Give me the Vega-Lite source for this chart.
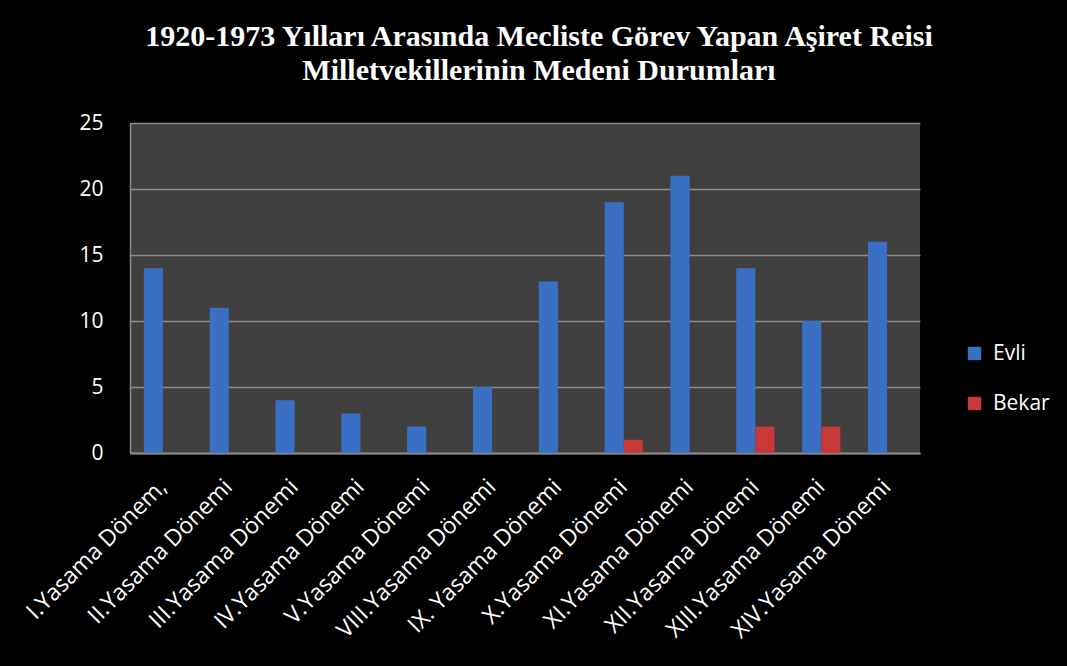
{
  "$schema": "https://vega.github.io/schema/vega-lite/v6.json",
  "width": 790,
  "height": 330,
  "autosize": {"type": "none"},
  "padding": {"left": 130, "top": 123, "right": 147, "bottom": 213},
  "background": "#000000",
  "title": {
    "text": ["1920-1973 Yılları Arasında Mecliste Görev Yapan Aşiret Reisi", "Milletvekillerinin Medeni Durumları"],
    "font": "Liberation Serif",
    "fontSize": 30,
    "fontWeight": "bold",
    "color": "#ffffff",
    "anchor": "middle",
    "offset": 26,
    "lineHeight": 34,
    "dx": 14
  },
  "config": {
    "view": {"fill": "#404040", "stroke": null},
    "font": "Open Sans"
  },
  "data": {
    "values": [
      {"donem": "I.Yasama Dönem,", "durum": "Evli", "sayi": 14},
      {"donem": "I.Yasama Dönem,", "durum": "Bekar", "sayi": 0},
      {"donem": "II.Yasama Dönemi", "durum": "Evli", "sayi": 11},
      {"donem": "II.Yasama Dönemi", "durum": "Bekar", "sayi": 0},
      {"donem": "III.Yasama Dönemi", "durum": "Evli", "sayi": 4},
      {"donem": "III.Yasama Dönemi", "durum": "Bekar", "sayi": 0},
      {"donem": "IV.Yasama Dönemi", "durum": "Evli", "sayi": 3},
      {"donem": "IV.Yasama Dönemi", "durum": "Bekar", "sayi": 0},
      {"donem": "V.Yasama Dönemi", "durum": "Evli", "sayi": 2},
      {"donem": "V.Yasama Dönemi", "durum": "Bekar", "sayi": 0},
      {"donem": "VIII.Yasama Dönemi", "durum": "Evli", "sayi": 5},
      {"donem": "VIII.Yasama Dönemi", "durum": "Bekar", "sayi": 0},
      {"donem": "IX. Yasama Dönemi", "durum": "Evli", "sayi": 13},
      {"donem": "IX. Yasama Dönemi", "durum": "Bekar", "sayi": 0},
      {"donem": "X.Yasama Dönemi", "durum": "Evli", "sayi": 19},
      {"donem": "X.Yasama Dönemi", "durum": "Bekar", "sayi": 1},
      {"donem": "XI.Yasama Dönemi", "durum": "Evli", "sayi": 21},
      {"donem": "XI.Yasama Dönemi", "durum": "Bekar", "sayi": 0},
      {"donem": "XII.Yasama Dönemi", "durum": "Evli", "sayi": 14},
      {"donem": "XII.Yasama Dönemi", "durum": "Bekar", "sayi": 2},
      {"donem": "XIII.Yasama Dönemi", "durum": "Evli", "sayi": 10},
      {"donem": "XIII.Yasama Dönemi", "durum": "Bekar", "sayi": 2},
      {"donem": "XIV.Yasama Dönemi", "durum": "Evli", "sayi": 16},
      {"donem": "XIV.Yasama Dönemi", "durum": "Bekar", "sayi": 0}
    ]
  },
  "mark": {"type": "bar"},
  "encoding": {
    "x": {
      "field": "donem",
      "type": "nominal",
      "sort": null,
      "title": null,
      "scale": {"paddingInner": 0.42, "paddingOuter": 0.21},
      "axis": {
        "labelAngle": -45,
        "labelAlign": "right",
        "labelBaseline": "middle",
        "labelPadding": 30,
        "labelLimit": 0,
        "labelOverlap": false,
        "ticks": false,
        "labelColor": "#ffffff",
        "labelFontSize": 23,
        "labelFont": "Open Sans",
        "domainColor": "#8c8c8c",
        "domainWidth": 2,
        "grid": false
      }
    },
    "xOffset": {
      "field": "durum",
      "type": "nominal",
      "sort": ["Evli", "Bekar"],
      "scale": {"paddingInner": 0, "paddingOuter": 0}
    },
    "y": {
      "field": "sayi",
      "type": "quantitative",
      "title": null,
      "scale": {"domain": [0, 25]},
      "axis": {
        "values": [0, 5, 10, 15, 20, 25],
        "ticks": false,
        "labelPadding": 27,
        "labelColor": "#ffffff",
        "labelFontSize": 21,
        "labelFont": "Open Sans",
        "domainColor": "#8c8c8c",
        "domainWidth": 1.5,
        "gridColor": "#8c8c8c",
        "gridWidth": 1.5,
        "gridOpacity": 1
      }
    },
    "color": {
      "field": "durum",
      "type": "nominal",
      "sort": ["Evli", "Bekar"],
      "scale": {"domain": ["Evli", "Bekar"], "range": ["#3a70c4", "#c83838"]},
      "legend": {
        "title": null,
        "orient": "none",
        "legendX": 834,
        "legendY": 220,
        "symbolType": "square",
        "symbolSize": 180,
        "symbolStrokeWidth": 0,
        "labelColor": "#ffffff",
        "labelFontSize": 21,
        "labelFont": "Open Sans",
        "labelOffset": 8,
        "rowPadding": 28
      }
    }
  }
}
